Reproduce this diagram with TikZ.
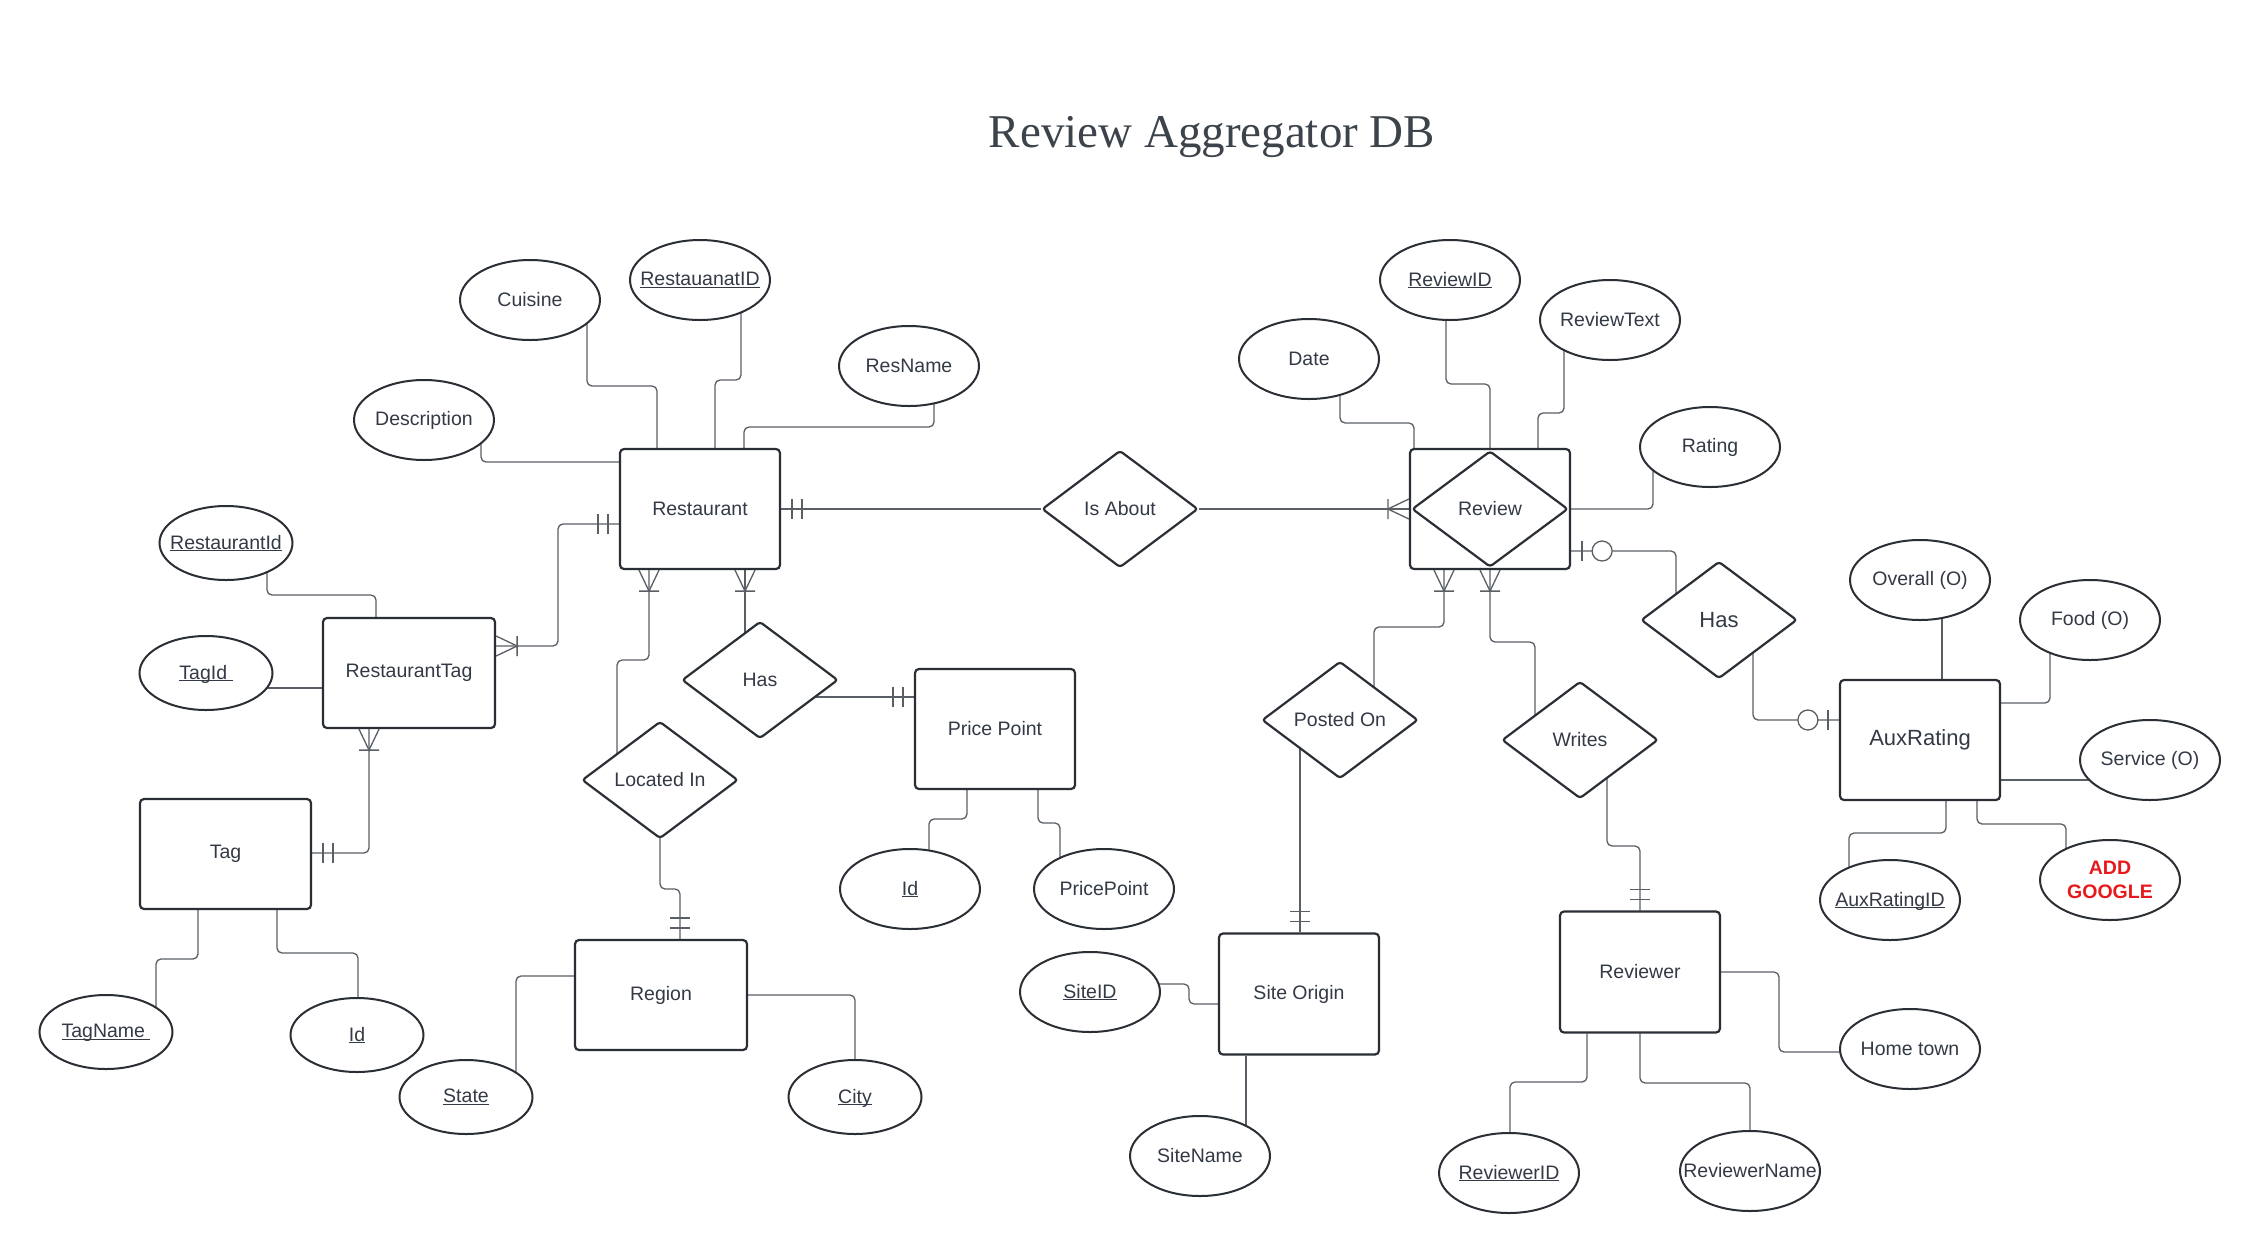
\documentclass[tikz,border=0pt]{standalone}
\usepackage{fontspec}
\setmainfont{Liberation Sans}
\newfontfamily\titlefont{Liberation Serif}
\usetikzlibrary{shapes.geometric,calc}
\pgfdeclarelayer{bg}
\pgfdeclarelayer{wires}
\pgfsetlayers{bg,wires,main}
\definecolor{txt}{HTML}{333A45}
\definecolor{ttl}{HTML}{3D434B}
\definecolor{edgec}{HTML}{2A2E35}
\definecolor{wire}{HTML}{5A5F66}
\definecolor{warn}{HTML}{E8191C}
\newcommand{\uln}[1]{\underline{\raisebox{0pt}[\height][0pt]{#1}}}
\newcommand{\zb}[1]{\makebox[0pt]{#1}}
\newcommand{\ermany}[2]{\begin{scope}[shift={(#1)},rotate=#2]\draw[tick](0,-10)--(21,0)--(0,10)(21,-10)--(21,10);\end{scope}}
\newcommand{\erone}[2]{\begin{scope}[shift={(#1)},rotate=#2]\draw[tick](11,-10)--(11,10)(21,-10)--(21,10);\end{scope}}
\newcommand{\erzero}[2]{\begin{scope}[shift={(#1)},rotate=#2]\draw[tick](11,-10)--(11,10);\draw[tick,fill=white](31,0)circle[radius=10pt];\end{scope}}
\begin{document}
\begin{tikzpicture}[x=1pt,y=-1pt,
  font=\fontsize{19.5}{23}\selectfont, text=txt,
  ent/.style={draw=edgec, line width=2.2pt, fill=white, rounded corners=4pt, minimum width=160pt, minimum height=120pt, inner sep=0pt},
  attr/.style={ellipse, draw=edgec, line width=2pt, fill=white, minimum width=140pt, minimum height=80pt, inner sep=0pt},
  sattr/.style={attr, minimum width=133pt, minimum height=74pt},
  rel/.style={diamond, draw=edgec, line width=2.2pt, fill=white, rounded corners=3pt, minimum width=156pt, minimum height=117pt, inner sep=0pt},
  conn/.style={draw=wire, line width=1.3pt, rounded corners=5pt},
  tick/.style={draw=wire, line width=1.3pt},
]
\useasboundingbox (0,0) rectangle (2260,1251);
\begin{pgfonlayer}{bg}
\fill[white] (0,0) rectangle (2260,1251);
\end{pgfonlayer}

\node[font=\titlefont\fontsize{47}{56}\selectfont, text=ttl, anchor=base] (title) at (1212,147) {Review Aggregator DB};

% entities
\node[ent] (R) at (700,509) {Restaurant};
\node[ent, minimum width=172pt, minimum height=110pt] (RT) at (409,673) {RestaurantTag};
\node[ent, minimum width=171pt, minimum height=110pt] (Tag) at (225.5,854) {Tag};
\node[ent] (PP) at (995,729) {Price Point};
\node[ent, minimum width=172pt, minimum height=110pt] (Reg) at (661,995) {Region};
\node[ent, minimum height=121pt] (SO) at (1299,994) {Site Origin};
\node[ent, minimum height=121pt] (RVR) at (1640,972) {Reviewer};
\node[ent, font=\fontsize{22}{26}\selectfont] (AUX) at (1920,740) {AuxRating};
\node[ent] (REV) at (1490,509) {};
\node[rel, minimum height=116pt] (REVD) at (REV.center) {\zb{Review}};

% relationships
\node[rel] (ISA) at (1120,509) {\zb{Is About}};
\node[rel] (HASL) at (760,680) {\zb{Has}};
\node[rel] (LOC) at (660,780) {\zb{Located In}};
\node[rel] (PO) at (1340,720) {\zb{Posted On}};
\node[rel] (WR) at (1580,740) {\zb{Writes}};
\node[rel, font=\fontsize{22}{26}\selectfont] (HASR) at (1719,620) {\zb{Has}};

% attributes
\node[attr] (CUI) at (530,300) {\zb{Cuisine}};
\node[attr] (RID) at (700,280) {\zb{\uln{RestauanatID}}};
\node[attr] (RSN) at (909,366) {\zb{ResName}};
\node[attr] (DSC) at (424,420) {\zb{Description}};
\node[sattr] (RSID) at (226,543) {\zb{\uln{RestaurantId}}};
\node[sattr] (TID) at (206,673) {\zb{\uln{TagId\ }}};
\node[sattr] (TN) at (106,1032) {\zb{\uln{TagName\ }}};
\node[sattr] (TGID) at (357,1035) {\zb{\uln{Id}}};
\node[sattr] (ST) at (466,1097) {\zb{\uln{State}}};
\node[sattr] (CTY) at (855,1097) {\zb{\uln{City}}};
\node[attr] (PPID) at (910,889) {\zb{\uln{Id}}};
\node[attr] (PPV) at (1104,889) {\zb{PricePoint}};
\node[attr] (SID) at (1090,992) {\zb{\uln{SiteID}}};
\node[attr] (SN) at (1200,1156) {\zb{SiteName}};
\node[attr] (RVID) at (1509,1173) {\zb{\uln{ReviewerID}}};
\node[attr] (RVN) at (1750,1171) {\zb{ReviewerName}};
\node[attr] (HT) at (1910,1049) {\zb{Home town}};
\node[attr] (DT) at (1309,359) {\zb{Date}};
\node[attr] (RVWID) at (1450,280) {\zb{\uln{ReviewID}}};
\node[attr] (RVT) at (1610,320) {\zb{ReviewText}};
\node[attr] (RAT) at (1710,447) {\zb{Rating}};
\node[attr] (OV) at (1920,580) {\zb{Overall (O)}};
\node[attr] (FD) at (2090,620) {\zb{Food (O)}};
\node[attr] (SV) at (2150,760) {\zb{Service (O)}};
\node[attr] (ARID) at (1890,900) {\zb{\uln{AuxRatingID}}};
\node[attr, text=warn, font=\fontsize{19.5}{24}\selectfont\bfseries, align=center] (AG) at (2110,880) {ADD\\GOOGLE};

\begin{pgfonlayer}{wires}
\draw[conn] (587,0 |- CUI.center) -- (587,386) -- (657,386) -- (657,0 |- R.north);
\draw[conn] (741,0 |- RID.center) -- (741,380) -- (715,380) -- (715,0 |- R.north);
\draw[conn] (934,0 |- RSN.center) -- (934,427) -- (744,427) -- (744,0 |- R.north);
\draw[conn] (481,0 |- DSC.center) -- (481,462) -- (R.west |- 0,462);
\draw[conn] (R.east) -- (ISA.west);
\draw[conn] (ISA.east) -- (REV.west);
\draw[conn] (R.west |- 0,524) -- (558,524) -- (558,646) -- (RT.east |- 0,646);
\draw[conn] (267,0 |- RSID.center) -- (267,595) -- (376,595) -- (376,0 |- RT.north);
\draw[conn] (TID.center |- 0,688) -- (RT.west |- 0,688);
\draw[conn] (369,0 |- RT.south) -- (369,853) -- (Tag.east |- 0,853);
\draw[conn] (198,0 |- Tag.south) -- (198,959) -- (156,959) -- (156,0 |- TN.center);
\draw[conn] (277,0 |- Tag.south) -- (277,953) -- (358,953) -- (358,0 |- TGID.center);
\draw[conn] (516,0 |- ST.center) -- (516,976) -- (Reg.west |- 0,976);
\draw[conn] (Reg.east) -| (CTY.center);
\draw[conn] (649,0 |- R.south) -- (649,660) -- (617,660) -- (617,0 |- LOC.center);
\draw[conn] (LOC.center) -- (660,889) -- (680,889) -- (680,0 |- Reg.north);
\draw[conn] (745,0 |- R.south) -- (745,0 |- HASL.center);
\draw[conn] (HASL.center |- 0,697) -- (PP.west |- 0,697);
\draw[conn] (967,0 |- PP.south) -- (967,819) -- (929,819) -- (929,0 |- PPID.center);
\draw[conn] (1038,0 |- PP.south) -- (1038,823) -- (1060,823) -- (1060,0 |- PPV.center);
\draw[conn] (1446,0 |- RVWID.center) -- (1446,384) -- (1490,384) -- (REV.north);
\draw[conn] (1564,0 |- RVT.center) -- (1564,413) -- (1538,413) -- (1538,0 |- REV.north);
\draw[conn] (1340,0 |- DT.center) -- (1340,423) -- (1414,423) -- (1414,0 |- REV.north);
\draw[conn] (REV.east) -- (1653,0 |- REV.east) -- (1653,0 |- RAT.center);
\draw[conn] (REV.east |- 0,551) -- (1676,551) -- (1676,0 |- HASR.center);
\draw[conn] (1753,0 |- HASR.center) -- (1753,720) -- (AUX.west |- 0,720);
\draw[conn] (1444,0 |- REV.south) -- (1444,627) -- (1374,627) -- (1374,0 |- PO.center);
\draw[conn] (1300,0 |- PO.center) -- (1300,0 |- SO.north);
\draw[conn] (1490,0 |- REV.south) -- (1490,642) -- (1535,642) -- (1535,0 |- WR.center);
\draw[conn] (1607,0 |- WR.center) -- (1607,846) -- (1640,846) -- (RVR.north);
\draw[conn] (SID.center |- 0,984) -- (1189,984) -- (1189,1004) -- (SO.west |- 0,1004);
\draw[conn] (1246,0 |- SO.south) -- (1246,0 |- SN.center);
\draw[conn] (1587,0 |- RVR.south) -- (1587,1082) -- (1510,1082) -- (1510,0 |- RVID.center);
\draw[conn] (RVR.south) -- (1640,1083) -- (1750,1083) -- (1750,0 |- RVN.center);
\draw[conn] (RVR.east |- 0,972) -- (1779,972) -- (1779,1052) -- (HT.center |- 0,1052);
\draw[conn] (1942,0 |- OV.center) -- (1942,0 |- AUX.north);
\draw[conn] (2050,0 |- FD.center) -- (2050,703) -- (AUX.east |- 0,703);
\draw[conn] (AUX.east |- 0,780) -- (SV.center |- 0,780);
\draw[conn] (1946,0 |- AUX.south) -- (1946,833) -- (1849,833) -- (1849,0 |- ARID.center);
\draw[conn] (1977,0 |- AUX.south) -- (1977,824) -- (2066,824) -- (2066,0 |- AG.center);
\end{pgfonlayer}

% cardinality marks
\erone{R.east}{0}
\ermany{REV.west}{180}
\erone{R.west |- 0,524}{180}
\ermany{RT.east |- 0,646}{0}
\ermany{369,0 |- RT.south}{-90}
\erone{Tag.east |- 0,853}{0}
\ermany{649,0 |- R.south}{-90}
\ermany{745,0 |- R.south}{-90}
\erone{680,0 |- Reg.north}{90}
\erone{PP.west |- 0,697}{180}
\ermany{1444,0 |- REV.south}{-90}
\ermany{1490,0 |- REV.south}{-90}
\erone{1300,0 |- SO.north}{90}
\erone{1640,0 |- RVR.north}{90}
\erzero{REV.east |- 0,551}{0}
\erzero{AUX.west |- 0,720}{180}
\end{tikzpicture}
\end{document}
